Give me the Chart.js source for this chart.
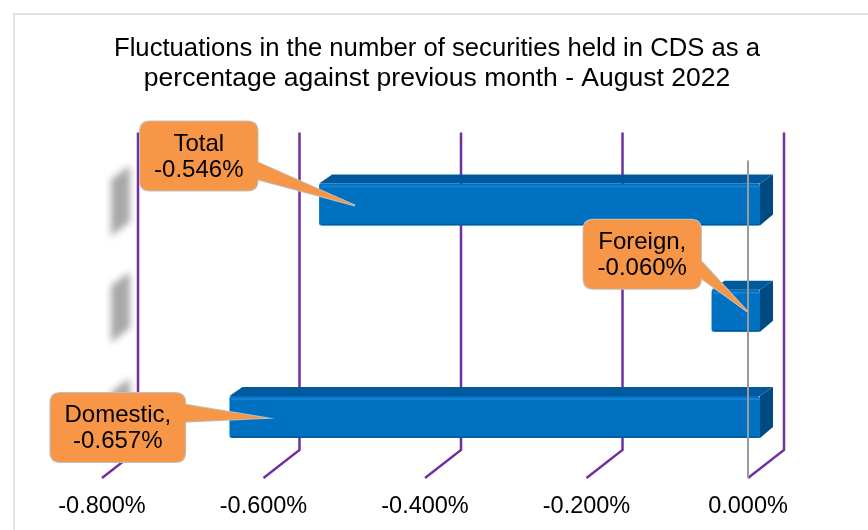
<!DOCTYPE html>
<html>
<head>
<meta charset="utf-8">
<script src="https://cdn.jsdelivr.net/npm/chart.js@4.4.1/dist/chart.umd.min.js"></script>
<style>
    html, body { margin: 0; padding: 0; background: #fff; overflow: hidden; }
    .chart-wrap { position: relative; width: 868px; height: 530px; }
</style>
</head>
<body>
<div class="chart-wrap">
    <canvas id="cdsChart" width="868" height="530"></canvas>
</div>
<script>
// Data
const categories = ['Total', 'Foreign', 'Domestic'];
const changePct = [-0.546, -0.060, -0.657];
const calloutLines = [
    ['Total', '-0.546%'],
    ['Foreign,', '-0.060%'],
    ['Domestic,', '-0.657%']
];
const axisMin = -0.8;
const axisMax = 0;
const axisStep = 0.2;

const FONT = "'Liberation Sans', Arial, sans-serif";
const DEPTH_X = 13;
const DEPTH_Y = 9;

// Callout box placement relative to the pointer tip
const calloutBoxes = [
    { dx: -215, dy: -84 },
    { dx: -164, dy: -92 },
    { dx: -215, dy: -25 }
];

function roundRect(ctx, x, y, w, h, r) {
    ctx.beginPath();
    ctx.moveTo(x + r, y);
    ctx.lineTo(x + w - r, y);
    ctx.quadraticCurveTo(x + w, y, x + w, y + r);
    ctx.lineTo(x + w, y + h - r);
    ctx.quadraticCurveTo(x + w, y + h, x + w - r, y + h);
    ctx.lineTo(x + r, y + h);
    ctx.quadraticCurveTo(x, y + h, x, y + h - r);
    ctx.lineTo(x, y + r);
    ctx.quadraticCurveTo(x, y, x + r, y);
    ctx.closePath();
}

// Back wall, floor lines and the grey shadows behind the bars
const wallPlugin = {
    id: 'wall3d',
    beforeDraw(chart) {
        const ctx = chart.ctx;
        ctx.save();
        ctx.strokeStyle = '#d9d9d9';
        ctx.lineWidth = 1.5;
        ctx.strokeRect(14, 14, 900, 600);
        ctx.restore();
    },
    beforeDatasetsDraw(chart) {
        const ctx = chart.ctx;
        const xs = chart.scales.x;
        const ys = chart.scales.y;
        const area = chart.chartArea;
        const wallTop = area.top - 19;
        const wallBottom = area.bottom - 20;
        const floorFront = area.bottom + 8;

        ctx.save();
        ctx.strokeStyle = '#7030a0';
        ctx.lineWidth = 2.5;
        xs.ticks.forEach(t => {
            const px = xs.getPixelForValue(t.value);
            ctx.beginPath();
            ctx.moveTo(px + 24, wallTop);
            ctx.lineTo(px + 24, wallBottom);
            ctx.lineTo(px - 12, floorFront);
            ctx.stroke();
        });

        // blurred side shadows
        ctx.fillStyle = '#a8a8a8';
        ctx.filter = 'blur(3.5px)';
        categories.forEach((c, i) => {
            const cy = ys.getPixelForValue(i);
            ctx.beginPath();
            ctx.moveTo(111, cy - 25);
            ctx.lineTo(130, cy - 39);
            ctx.lineTo(130, cy + 17);
            ctx.lineTo(111, cy + 32);
            ctx.closePath();
            ctx.fill();
        });
        ctx.restore();
    },
    afterDatasetsDraw(chart) {
        const ctx = chart.ctx;
        const xs = chart.scales.x;
        const area = chart.chartArea;
        const meta = chart.getDatasetMeta(0);

        ctx.save();
        meta.data.forEach(bar => {
            const L = Math.min(bar.x, bar.base);
            const R = Math.max(bar.x, bar.base);
            const T = bar.y - bar.height / 2;
            const B = bar.y + bar.height / 2;

            // top face
            ctx.fillStyle = '#00599c';
            ctx.beginPath();
            ctx.moveTo(L, T);
            ctx.lineTo(L + DEPTH_X, T - DEPTH_Y);
            ctx.lineTo(R + DEPTH_X, T - DEPTH_Y);
            ctx.lineTo(R, T);
            ctx.closePath();
            ctx.fill();

            // side face
            ctx.fillStyle = '#004a82';
            ctx.beginPath();
            ctx.moveTo(R, T);
            ctx.lineTo(R + DEPTH_X, T - DEPTH_Y);
            ctx.lineTo(R + DEPTH_X, B - DEPTH_Y - 2);
            ctx.lineTo(R, B);
            ctx.closePath();
            ctx.fill();

            // highlight under the top edge
            ctx.strokeStyle = '#1581d4';
            ctx.lineWidth = 2;
            ctx.beginPath();
            ctx.moveTo(L + 2, T + 3);
            ctx.lineTo(R, T + 3);
            ctx.stroke();
            // dark bottom edge
            ctx.strokeStyle = '#005b9e';
            ctx.lineWidth = 1.5;
            ctx.beginPath();
            ctx.moveTo(L + 3, B - 1);
            ctx.lineTo(R, B - 1);
            ctx.stroke();
        });

        // zero line
        const zx = xs.getPixelForValue(0) - 12;
        ctx.strokeStyle = '#9a9a9a';
        ctx.lineWidth = 2;
        ctx.beginPath();
        ctx.moveTo(zx, area.top + 9);
        ctx.lineTo(zx, area.bottom + 8);
        ctx.stroke();

        // callouts
        ctx.font = '24px ' + FONT;
        meta.data.forEach((bar, i) => {
            const L = Math.min(bar.x, bar.base);
            const tipX = L + 36;
            const tipY = bar.y + 1;
            const lines = calloutLines[i];
            const w = Math.max(...lines.map(s => ctx.measureText(s).width)) + 28;
            const h = 69;
            const bx = tipX + calloutBoxes[i].dx;
            const by = tipY + calloutBoxes[i].dy;
            const cy = by + h / 2;
            const f1 = tipY > cy ? 7 / 12 : 2 / 12;
            const f2 = tipY > cy ? 10 / 12 : 5 / 12;

            ctx.fillStyle = '#f79646';
            ctx.strokeStyle = '#bfbfbf';
            ctx.lineWidth = 2;
            roundRect(ctx, bx, by, w, h, 10);
            ctx.stroke();
            ctx.beginPath();
            ctx.moveTo(bx + w - 1, by + h * f1);
            ctx.lineTo(tipX, tipY);
            ctx.lineTo(bx + w - 1, by + h * f2);
            ctx.closePath();
            ctx.stroke();
            roundRect(ctx, bx, by, w, h, 10);
            ctx.fill();
            ctx.beginPath();
            ctx.moveTo(bx + w - 1, by + h * f1);
            ctx.lineTo(tipX, tipY);
            ctx.lineTo(bx + w - 1, by + h * f2);
            ctx.closePath();
            ctx.fill();

            ctx.fillStyle = '#000';
            ctx.textAlign = 'center';
            ctx.textBaseline = 'middle';
            ctx.fillText(lines[0], bx + w / 2, cy - 12);
            ctx.fillText(lines[1], bx + w / 2, cy + 14);
        });
        ctx.restore();
    }
};

const ctxEl = document.getElementById('cdsChart');
new Chart(ctxEl, {
    type: 'bar',
    data: {
        labels: categories,
        datasets: [{
            label: 'Change',
            data: changePct,
            backgroundColor: '#0070c0',
            borderWidth: 0,
            borderRadius: 2,
            borderSkipped: false,
            barPercentage: 0.396,
            categoryPercentage: 1
        }]
    },
    options: {
        indexAxis: 'y',
        responsive: false,
        animation: false,
        layout: {
            padding: { left: 114, right: 108, top: 0, bottom: 11 }
        },
        plugins: {
            legend: { display: false },
            tooltip: { enabled: false },
            title: {
                display: true,
                text: [
                    'Fluctuations in the number of securities held in CDS as a',
                    'percentage against previous month - August 2022'
                ],
                color: '#000',
                font: { family: FONT, size: 26.5, weight: 'normal', lineHeight: 1.16 },
                padding: { top: 33, bottom: 57 }
            }
        },
        scales: {
            x: {
                min: axisMin,
                max: axisMax,
                grid: { display: false, drawTicks: false },
                border: { display: false },
                ticks: {
                    stepSize: axisStep,
                    color: '#000',
                    padding: 22,
                    labelOffset: -12,
                    font: { family: FONT, size: 23.5 },
                    callback: v => Number(v).toFixed(3) + '%'
                },
                afterFit: scale => {
                    scale.height = 49;
                }
            },
            y: {
                display: false
            }
        }
    },
    plugins: [wallPlugin]
});
</script>
</body>
</html>
